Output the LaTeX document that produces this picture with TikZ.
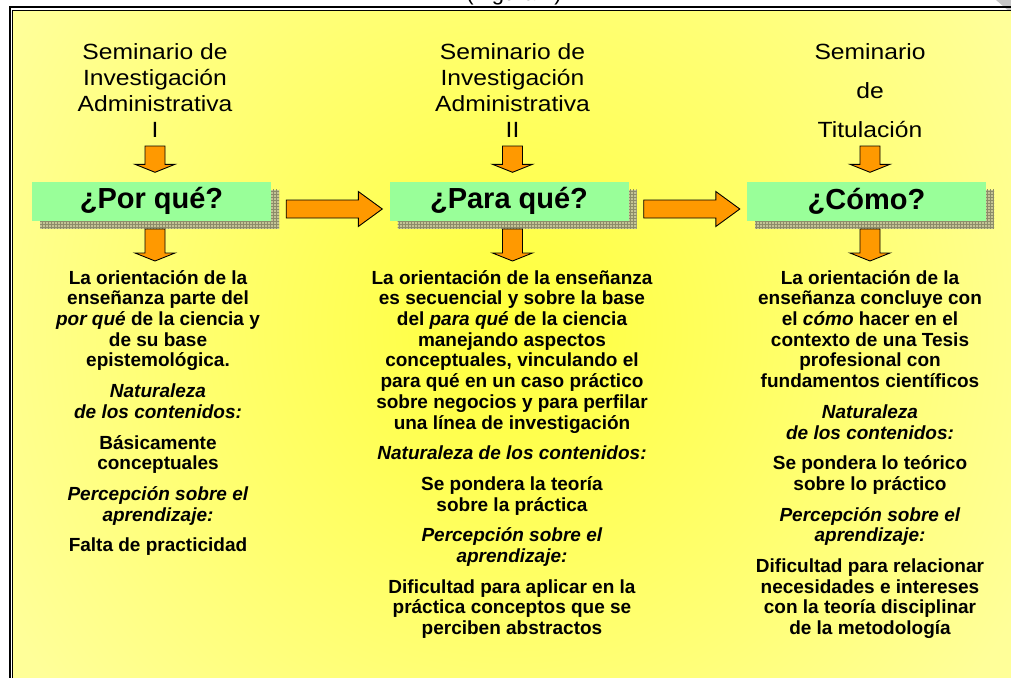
\documentclass[tikz,border=0pt]{standalone}
\usepackage{fontspec}
\setmainfont{Liberation Sans}
\newfontfamily\headfont[FakeStretch=1.12]{Liberation Sans}
\usepackage{tikz}
\usetikzlibrary{calc}
\usetikzlibrary{patterns}
\definecolor{paleyellow}{RGB}{255,255,153}
\definecolor{glowyellow}{RGB}{255,255,60}
\definecolor{boxgreen}{RGB}{153,255,153}
\definecolor{shadowolive}{RGB}{196,196,150}
\definecolor{gridolive}{RGB}{140,140,105}
\definecolor{arroworange}{RGB}{255,153,0}

\begin{document}
\begin{tikzpicture}[x=1pt,y=-1pt,
                    head/.style={font=\headfont\fontsize{22}{26}\selectfont,
                                 align=center,inner sep=0pt,anchor=south},
                    body/.style={font=\bfseries\fontsize{19}{20.7}\selectfont,
                                 align=center,inner sep=0pt,anchor=north},
                    qbox/.style={fill=boxgreen,minimum width=239pt,minimum height=39pt,
                                 inner sep=0pt,font=\bfseries\fontsize{29}{29}\selectfont},
                    qshadow/.style={fill=shadowolive,minimum width=239pt,minimum height=39pt,
                                 inner sep=0pt,postaction={pattern=grid,pattern color=gridolive}},
                    block/.style={fill=arroworange,draw=black,line width=0.9pt,line join=miter},
                    fat down/.style={block,to path={let \p1=(\tikztostart),\p2=(\tikztotarget) in
                       (\x1-10pt,\y1-8pt) -- (\x1+10pt,\y1-8pt) -- (\x1+10pt,\y2+17pt)
                       -- (\x1+20pt,\y2+17pt) -- (\x1,\y2+9pt) -- (\x1-20pt,\y2+17pt)
                       -- (\x1-10pt,\y2+17pt) -- cycle}},
                    fat right/.style={block,to path={let \p1=(\tikztostart),\p2=(\tikztotarget) in
                       (\x1+7pt,\y1+9pt) -- (\x2-31pt,\y1+9pt) -- (\x2-31pt,\y1+17.5pt)
                       -- (\x2-7pt,\y1) -- (\x2-31pt,\y1-17.5pt) -- (\x2-31pt,\y1-9pt)
                       -- (\x1+7pt,\y1-9pt) -- cycle}}]
\useasboundingbox (0,0) rectangle (1011,677);
% caption cut off by the page edge
\node[font=\fontsize{22}{22}\selectfont,anchor=base,inner sep=0pt] (fig) at (514,1) {(Figura 1)};
\fill[gray!45] (996,0) -- (1011,0) -- (1011,13) -- cycle;
% background with its glow
\fill[paleyellow] (12.5,10.5) rectangle (1040,700);
\begin{scope}
  \clip (12.5,10.5) rectangle (1040,700);
  \shade[inner color=glowyellow,outer color=paleyellow] (510,330) circle (580);
\end{scope}
\draw[line width=2pt] (9.5,6.8) rectangle (1045,705);
\draw[line width=1.3pt] (12.2,10.3) rectangle (1042,702);
%
\node[head] (h1) at (155,138) {Seminario de\\Investigación\\Administrativa\\I};
\node[head] (h2) at (512.5,138) {Seminario de\\Investigación\\Administrativa\\II};
\node[head,font=\headfont\fontsize{22}{39}\selectfont] (h3) at (870,138) {Seminario\\de\\Titulación};
%
\foreach \n/\x/\txt in {1/155/{¿Por qué?},2/512.5/{¿Para qué?},3/870/{¿Cómo?}}
{
      \node[qshadow] (s\n) at (\x+4.5,209) {};
      \node[qbox] (q\n) at (\x-3.5,201) {\txt};
      \coordinate (t\n) at (\x,221);
}
%
\node[body] (b1) at (158,270) {La orientación de la\\enseñanza parte del\\
  \textit{por qué} de la ciencia y\\de su base\\epistemológica.\\[10pt]
  \textit{Naturaleza}\\\textit{de los contenidos:}\\[10pt]
  Básicamente\\conceptuales\\[10pt]
  \textit{Percepción sobre el}\\\textit{aprendizaje:}\\[10pt]
  Falta de practicidad};
\node[body] (b2) at (512,270) {La orientación de la enseñanza\\es secuencial y  sobre la base\\
  del \textit{para qué} de la ciencia\\manejando aspectos\\conceptuales, vinculando el\\
  para qué en un caso práctico\\sobre negocios y para perfilar\\una línea de investigación\\[10pt]
  \textit{Naturaleza de los contenidos:}\\[10pt]
  Se pondera la teoría\\sobre la práctica\\[10pt]
  \textit{Percepción sobre el}\\\textit{aprendizaje:}\\[10pt]
  Dificultad para aplicar en la\\práctica conceptos que se\\perciben abstractos};
\node[body] (b3) at (870,270) {La orientación de la\\enseñanza concluye con\\
  el \textit{cómo} hacer en el\\contexto de una Tesis\\profesional con\\fundamentos científicos\\[10pt]
  \textit{Naturaleza}\\\textit{de los contenidos:}\\[10pt]
  Se pondera lo teórico\\sobre lo práctico\\[10pt]
  \textit{Percepción sobre el}\\\textit{aprendizaje:}\\[10pt]
  Dificultad para relacionar\\necesidades e intereses\\con la teoría disciplinar\\de la metodología};
%
\draw[fat down] (h1.south) to (q1.north);
\draw[fat down] (h2.south) to (q2.north);
\draw[fat down] (h3.south) to (q3.north);
\draw[fat down] (t1) to (b1.north);
\draw[fat down] (t2) to (b2.north);
\draw[fat down] (t3) to (b3.north);
\draw[fat right] (s1.east) to (q2.west);
\draw[fat right] (s2.east) to (q3.west);
\end{tikzpicture}
\end{document}
